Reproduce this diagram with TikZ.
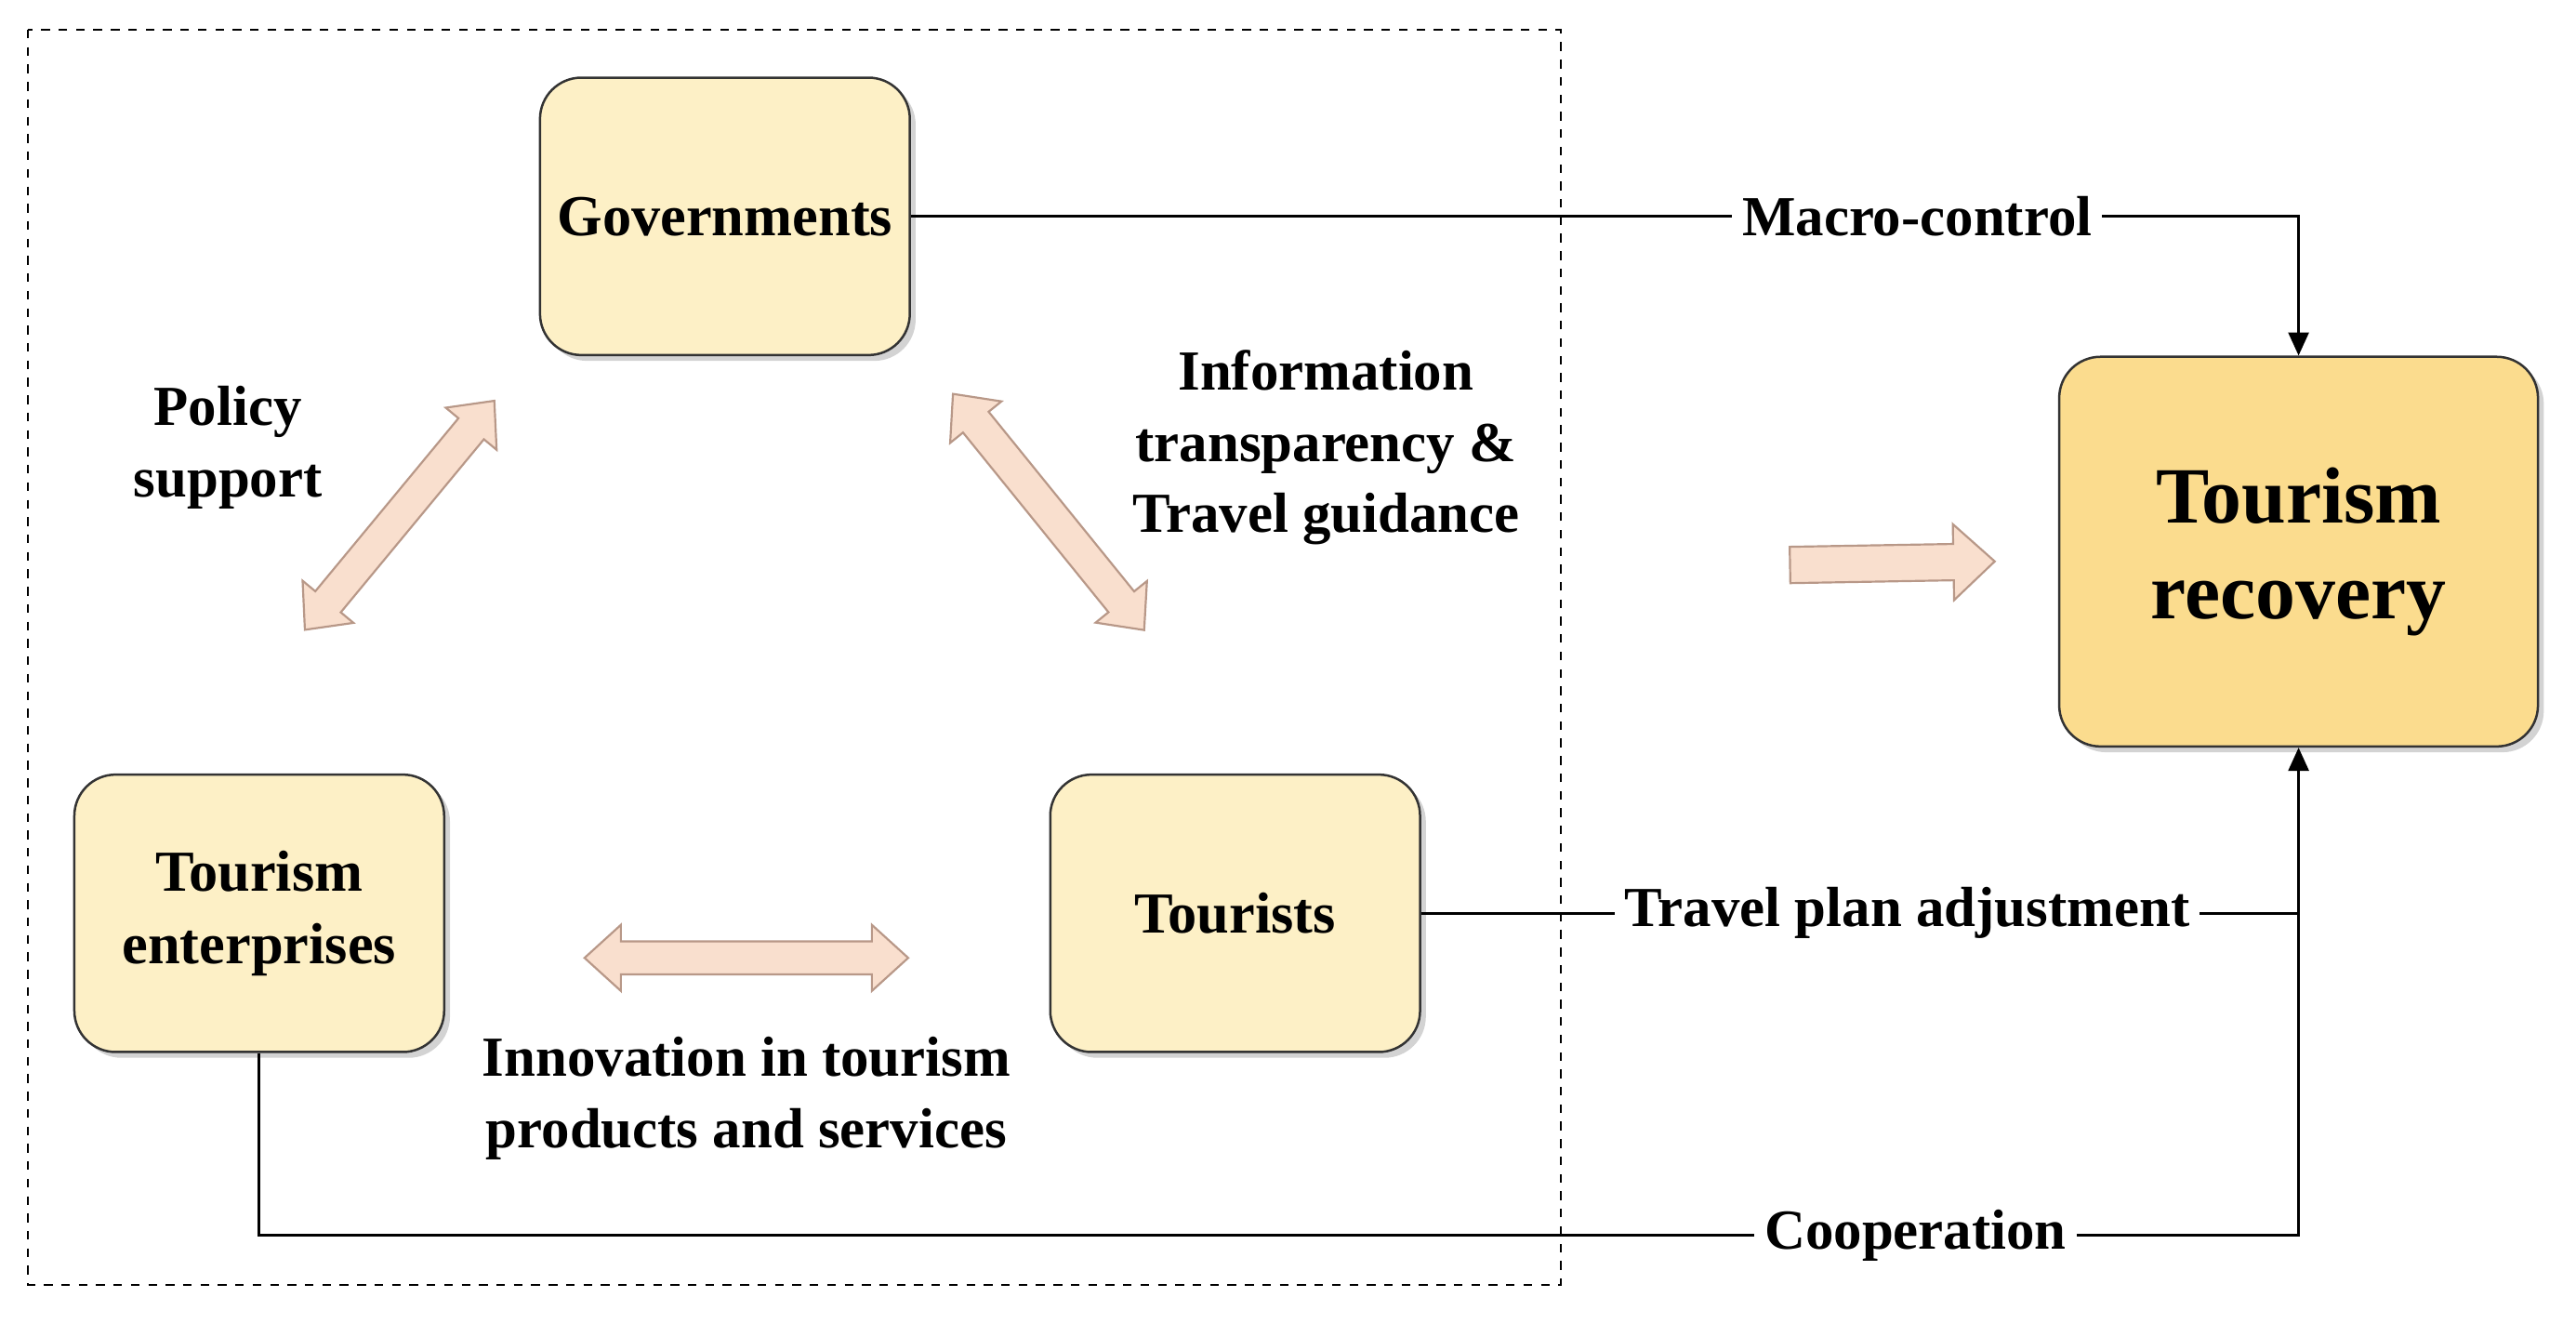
\documentclass[tikz,border=0pt]{standalone}
\usepackage{fontspec}
\setmainfont{Liberation Serif}
\usetikzlibrary{shadows,arrows.meta}
\definecolor{boxfill}{HTML}{FDF0C6}
\definecolor{recfill}{HTML}{FBDC8E}
\definecolor{arrfill}{HTML}{F9DFCE}
\definecolor{arrdraw}{HTML}{B89888}
\newcommand{\fatdbl}[4]{%
 \begin{scope}[shift={(#1,#2)},rotate=#3]
 \filldraw[fill=arrfill,draw=arrdraw,line width=0.7pt]
 (-#4,0) -- (-#4+22,20) -- (-#4+22,10) -- (#4-22,10) -- (#4-22,20) -- (#4,0)
 -- (#4-22,-20) -- (#4-22,-10) -- (-#4+22,-10) -- (-#4+22,-20) -- cycle;
 \end{scope}}
\begin{document}
\begin{tikzpicture}[x=0.02cm,y=-0.02cm,
 box/.style={draw=black!80,line width=0.8pt,rounded corners=0.5cm,fill=boxfill,minimum width=4.48cm,minimum height=3.36cm,align=center,font=\fontsize{20}{25}\selectfont\bfseries,drop shadow={shadow xshift=2pt,shadow yshift=-2pt,opacity=0.35}},
 lab/.style={font=\fontsize{19.5}{24.5}\selectfont\bfseries,align=center},
 ln/.style={line width=1pt}]
\useasboundingbox (0,0) rectangle (1560,809);
\draw[dashed,line width=0.6pt] (17,18) rectangle (945,778);
\node[box] (gov) at (439,131) {Governments};
\node[box] (ent) at (157,553) {Tourism\\enterprises};
\node[box] (tou) at (748,553) {Tourists};
\node[box,fill=recfill,minimum width=5.8cm,minimum height=4.72cm,font=\fontsize{27.5}{33}\selectfont\bfseries] (rec) at (1392,334) {Tourism\\recovery};
\fatdbl{242}{312}{50.4}{90}
\fatdbl{635}{310}{-51}{92}
\fatdbl{452}{580}{0}{98}
\begin{scope}[shift={(1146,341)},rotate=1]
 \filldraw[fill=arrfill,draw=arrdraw,line width=0.7pt]
 (-62,11) -- (37,11) -- (37,23) -- (62,0) -- (37,-23) -- (37,-11) -- (-62,-11) -- cycle;
\end{scope}
\node[lab] (lp) at (138,271) {Policy\\support};
\node[lab] (li) at (803,271) {Information\\transparency \&\\Travel guidance};
\node[lab] (ln) at (452,665) {Innovation in tourism\\products and services};
\node[lab] (lm) at (1161,131) {Macro-control};
\node[lab] (lt) at (1155,553) {Travel plan adjustment};
\node[lab] (lc) at (1160,748) {Cooperation};
\coordinate (c1) at (1392,131);
\coordinate (c2) at (1392,553);
\coordinate (c3) at (157,748);
\coordinate (c4) at (1392,748);
\draw[ln] (gov.east) -- (lm.west |- gov.east);
\draw[ln,-{Triangle[length=8pt,width=7pt]}] (lm.east |- c1) -- (c1) -- (rec.north);
\draw[ln] (tou.east) -- (lt.west |- tou.east);
\draw[ln] (lt.east |- c2) -- (c2);
\draw[ln] (ent.south) -- (c3) -- (lc.west |- c3);
\draw[ln,-{Triangle[length=8pt,width=7pt]}] (lc.east |- c4) -- (c4) -- (rec.south);
\end{tikzpicture}
\end{document}
